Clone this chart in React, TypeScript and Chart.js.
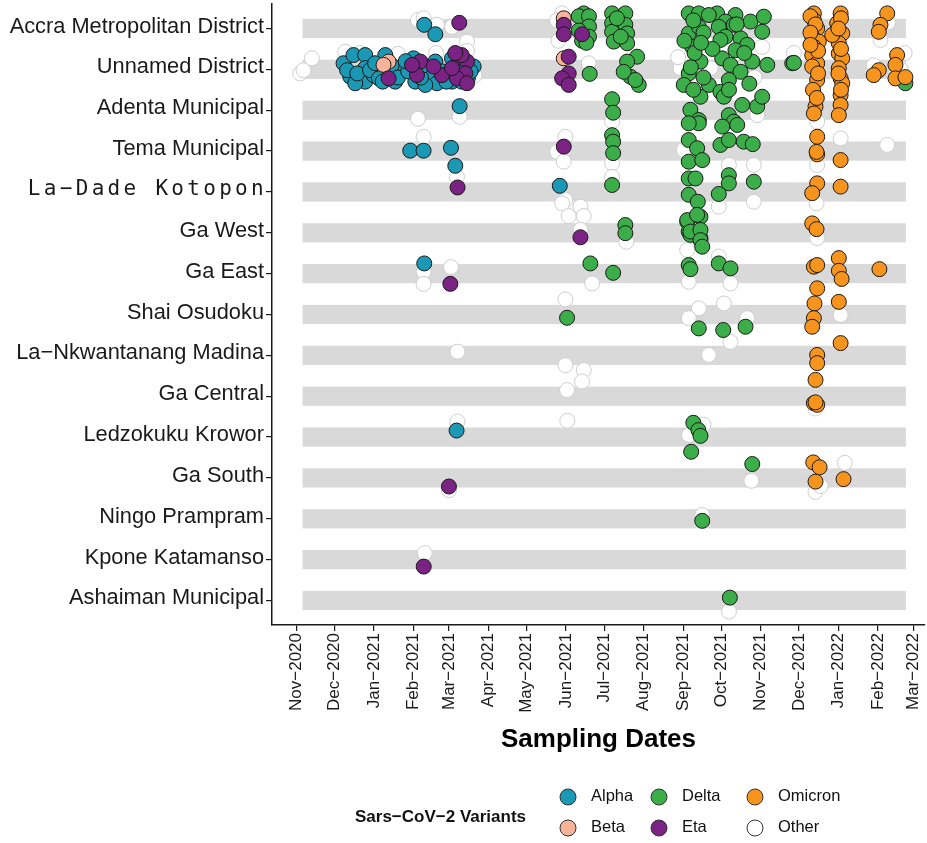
import React, { useEffect, useRef } from "react";
import { Chart, registerables } from "chart.js";

Chart.register(...registerables);

// y categories (top to bottom)
const DISTRICTS = [
  "Accra Metropolitan District",
  "Unnamed District",
  "Adenta Municipal",
  "Tema Municipal",
  "La−Dade Kotopon",
  "Ga West",
  "Ga East",
  "Shai Osudoku",
  "La−Nkwantanang Madina",
  "Ga Central",
  "Ledzokuku Krowor",
  "Ga South",
  "Ningo Prampram",
  "Kpone Katamanso",
  "Ashaiman Municipal",
];

// x values are days since 1 Nov 2020
const MONTH_TICK_DAYS = [0, 30, 61, 92, 120, 151, 181, 212, 242, 273, 304, 334, 365, 395, 426, 457, 485];
const MONTH_TICK_LABELS = [
  "Nov−2020", "Dec−2020", "Jan−2021", "Feb−2021", "Mar−2021", "Apr−2021", "May−2021", "Jun−2021",
  "Jul−2021", "Aug−2021", "Sep−2021", "Oct−2021", "Nov−2021", "Dec−2021", "Jan−2022", "Feb−2022", "Mar−2022",
];
const BAND_START_DAY = 5;
const BAND_END_DAY = 479;

// points: [day, district index + jitter]
const ALPHA: number[][] = [
  [100.6, -0.09], [109.3, 0.14],
  [37.2, 0.85], [45, 0.65], [54.2, 0.65], [54.2, 0.97], [42.5, 1.18], [54.2, 1.3], [46.4, 1.34], [70, 0.65],
  [60.8, 1.14], [77.8, 1.3], [83.1, 0.97], [92.2, 0.73], [93.6, 1.3], [104, 1.14], [109.3, 0.81], [110.6, 1.34],
  [122.4, 0.73], [122.4, 1.3], [139.4, 0.93], [101.4, 1.38], [40, 1.02], [48, 1.1], [58, 1.02], [65, 1.22],
  [75, 0.9], [80, 1.2], [88, 1.05], [98, 1.2], [100, 0.9], [115, 1.05], [118, 1.3], [126, 1.0], [130, 1.3],
  [135, 1.2], [62, 0.85], [86, 0.8], [68, 1.3], [137, 1.05],
  [128.4, 1.9],
  [89.6, 2.99], [100.1, 2.99], [121.6, 2.92], [125, 3.36],
  [207.1, 3.85],
  [100.6, 5.75],
  [126, 9.84],
];
const BETA: number[][] = [
  [210.2, -0.25], [72.6, 0.81], [68.6, 0.89], [210.2, 0.73],
];
const DELTA: number[][] = [
  [225.9, -0.37], [225.9, -0.25], [225.9, -0.13], [225.9, 0.0], [225.9, 0.12], [227, 0.24], [224.6, 0.3],
  [222, -0.3], [230, -0.3], [230, -0.05], [222, 0.05], [230, 0.2], [228, 0.35],
  [230.6, 1.11],
  [248.2, -0.37], [258.6, -0.37], [248.2, -0.13], [258.6, -0.09], [248.2, 0.08], [260, 0.12], [249.5, 0.32],
  [260, 0.36], [267.8, 0.69], [260, 0.81], [262.6, 1.18], [269.1, 1.38], [257.3, 1.06], [266.5, 1.26],
  [252, -0.25], [255, 0.2],
  [248.2, 1.73], [249, 2.06],
  [248.2, 2.61], [249, 2.77], [249, 3.05],
  [248.2, 3.83],
  [258.6, 4.81], [258.6, 5.01],
  [231.1, 5.75], [249, 5.98],
  [212.8, 7.08],
  [308.4, -0.37], [316.3, -0.37], [308.4, 0.12], [316.3, -0.04], [311.1, 0.45], [317.6, 0.81], [308.4, 1.1],
  [304.5, 1.38], [317.6, 1.67], [309.7, 1.99], [316.3, 2.24], [324.2, 1.38],
  [330.7, -0.37], [324.2, -0.33], [345.1, -0.33], [337.3, -0.17], [332, -0.04], [343.8, -0.09], [356.9, -0.17],
  [337.3, 0.2], [349.1, 0.24], [333.3, 0.28], [354.3, 0.4], [345.1, 0.53], [334.7, 0.73], [341.2, 0.89],
  [358.3, 0.81], [349.1, 1.06], [339.9, 1.26], [333.3, 1.55], [336, 1.67], [350.4, 1.87], [339.9, 2.12],
  [343.8, 2.28], [362.2, 1.91], [366.1, 1.67], [366.1, 0.08], [367.4, -0.29], [370.1, 0.89], [389.7, 0.85],
  [312, -0.2], [320, 0.1], [313, 0.6], [305, 0.3], [320, 1.2], [312, 1.5], [346, -0.1], [352, 0.6], [327, 0.5],
  [340, 1.5], [356, 1.35], [310, 0.95], [318, 0.35],
  [316.3, 2.32], [308.4, 2.32], [346.5, 2.36], [334.7, 2.4], [308.4, 2.73], [315, 2.93], [333.3, 2.85],
  [339.9, 2.73], [351.6, 2.77], [358.7, 2.83], [308.4, 3.26], [319, 3.22], [308.4, 3.67], [313.7, 3.67],
  [339.9, 3.59], [339.9, 3.79], [359.5, 3.75], [332, 4.05], [308.4, 4.07], [315.5, 4.24], [317.6, 4.61],
  [307.2, 4.73], [308.4, 4.97], [317.6, 5.13], [309.7, 5.05],
  [307.2, 4.69], [315, 4.56], [309.7, 4.97], [317.6, 4.93], [317.6, 5.18], [319, 5.34],
  [308.4, 5.79], [309.7, 5.89], [332, 5.75], [341.2, 5.87],
  [316.3, 7.34], [335.5, 7.38], [353, 7.3],
  [312, 9.65], [316, 9.83], [317.6, 9.97], [310.3, 10.36],
  [358.3, 10.66],
  [319, 12.05],
  [340.7, 13.93],
  [478.6, 1.34], [391, 0.84],
];
const ETA: number[][] = [
  [128.1, -0.14], [210.2, -0.09], [210.2, 0.14], [224.6, 0.14],
  [72.6, 1.22], [97.5, 0.81], [94.9, 1.14], [114.5, 1.14], [107.9, 0.93], [127.6, 0.73], [134.2, 0.81],
  [132.9, 1.1], [126.3, 1.22], [134.2, 1.34], [122.4, 0.97], [91, 0.89], [214.1, 0.69], [214.1, 1.1],
  [208.9, 1.22], [214.1, 1.38], [130, 0.65], [125, 0.6],
  [210.2, 2.89],
  [126.8, 3.89],
  [223.3, 5.11],
  [121.1, 6.25],
  [120, 11.21],
  [100.2, 13.17],
];
const OMICRON: number[][] = [
  [406.7, -0.37], [406.7, -0.21], [409.3, 0.0], [405.4, 0.2], [410.6, 0.32], [406.7, 0.45], [405.4, 0.65],
  [409.3, 0.85], [405.4, 0.93], [409.3, 1.26], [408, 1.91], [406.7, 2.08],
  [404, -0.3], [408, -0.1], [404, 0.1], [410, 0.55], [404, 0.4], [410, 1.1], [406, 1.5], [409, 1.7],
  [427.7, -0.37], [425, -0.13], [429, 0.12], [426.3, 0.36], [426.3, 0.61], [429, 0.73], [426.3, 0.97],
  [427.7, 1.22], [429, 1.34], [427.7, 1.63], [427.7, 1.87], [426.3, 2.12], [421.1, 0.16],
  [428, -0.25], [426, 0.0], [428, 0.5], [426, 1.1], [428, 1.5],
  [464.3, -0.37], [459, -0.09], [457.7, 0.08], [472.1, 0.65], [470.8, 0.89], [457.7, 1.02], [453.7, 1.14],
  [470.8, 1.22], [478.6, 1.19],
  [409.3, 2.65], [409.3, 3.08], [408.8, 3.02], [427.7, 3.22],
  [409.3, 3.79], [405.4, 4.03], [427.7, 3.87],
  [405.4, 4.77], [408.8, 4.91],
  [406.7, 5.83], [409.3, 5.79], [426.3, 5.62], [426.3, 5.93], [428.5, 6.13], [458.2, 5.89],
  [409.3, 6.36], [407.2, 6.73], [426.3, 6.69], [406.7, 7.09], [405.4, 7.3],
  [427.7, 7.7], [409.3, 7.99], [409.3, 8.19], [408, 8.6],
  [406.7, 9.17], [409.3, 9.21], [408, 9.15],
  [406.2, 10.62], [411.2, 10.74], [408, 11.09], [430, 11.03],
];
const OTHER: number[][] = [
  [3.1, 1.1], [5.7, 1.02], [12.3, 0.73], [38.5, 0.57], [95.7, -0.21], [100.1, -0.25], [110.6, -0.09],
  [122.4, -0.04], [134.2, 0.32], [134.2, 0.55], [95.7, 2.21], [128.4, 2.16], [100.1, 2.65], [126.3, 3.63],
  [208.9, -0.37], [205, -0.2], [206, 0.3], [229.8, 0.85], [211.5, 2.65], [205, 3.02], [210.2, 3.26],
  [211.5, 4.2], [208.9, 4.28], [223.3, 4.36], [214.1, 4.59], [225.9, 4.59], [223.3, 4.93], [100.1, 5.95],
  [100.1, 6.25], [121.6, 5.84], [232.5, 6.24], [211.5, 6.63], [126.7, 7.91], [211.5, 8.24], [225.9, 8.36],
  [224.6, 8.64], [212.8, 8.85], [126.7, 9.62], [213, 9.6], [308.6, 9.95], [320, 9.7], [357.6, 11.07],
  [408, 11.34], [412, 11.2], [431, 10.63], [319, 11.91], [101, 12.84], [340, 14.27], [120, 11.3],
  [248.2, 2.28], [248.2, 3.3], [248.2, 3.63], [259.4, 5.22],
  [301.9, 0.97], [325.5, 0.97], [366.1, 0.45], [362.2, 2.12], [339.9, 3.34], [359.5, 3.34], [359.5, 4.24],
  [332, 4.36], [304.5, 2.97], [307.2, 5.42], [332, 5.58], [308.4, 6.2], [341.2, 6.24], [316.3, 6.85],
  [336, 6.73], [308.4, 7.09], [341.2, 7.67], [354.3, 7.09], [324.2, 7.99], [391, 0.6],
  [409.3, 2.28], [427.7, 2.69], [409.3, 3.34], [408.8, 4.28], [409.3, 5.13], [427.7, 7.01], [464.3, 2.85],
  [459, 0.28], [453.7, 0.9], [475, 1.0], [478, 0.6], [408, 9.3], [465, -0.15],
  [50, 0.6], [80, 0.62], [110, 0.6], [140, 1.15], [300, 0.7], [340, 0.0], [360, 1.2],
];

const VARIANTS = [
  { name: "Alpha", data: ALPHA, color: "#1B98B4", border: "#1a1a1a", order: 5 },
  { name: "Beta", data: BETA, color: "#F7B49A", border: "#1a1a1a", order: 4 },
  { name: "Delta", data: DELTA, color: "#3BAE4A", border: "#1a1a1a", order: 3 },
  { name: "Eta", data: ETA, color: "#7A2384", border: "#1a1a1a", order: 2 },
  { name: "Omicron", data: OMICRON, color: "#F7941D", border: "#1a1a1a", order: 1 },
  { name: "Other", data: OTHER, color: "#FFFFFF", border: "#CDCDCD", order: 10 },
];

const LEGEND_LAYOUT = [
  { name: "Alpha", cx: 568, cy: 797 },
  { name: "Beta", cx: 568, cy: 828 },
  { name: "Delta", cx: 659, cy: 797 },
  { name: "Eta", cx: 659, cy: 828 },
  { name: "Omicron", cx: 755, cy: 797 },
  { name: "Other", cx: 755, cy: 828 },
];

const SANS = "'Liberation Sans', Arial, Helvetica, sans-serif";

const decorPlugin = {
  id: "decor",
  beforeDatasetsDraw(chart: any) {
    const { ctx, scales } = chart;
    const x = scales.x, y = scales.y;
    ctx.save();
    ctx.fillStyle = "#D9D9D9";
    const x0 = x.getPixelForValue(BAND_START_DAY);
    const x1 = x.getPixelForValue(BAND_END_DAY);
    DISTRICTS.forEach((_, i) => {
      const ya = y.getPixelForValue(i - 0.235);
      const yb = y.getPixelForValue(i + 0.235);
      ctx.fillRect(x0, Math.min(ya, yb), x1 - x0, Math.abs(yb - ya));
    });
    ctx.restore();
  },
  afterDraw(chart: any) {
    const { ctx, scales } = chart;
    const y = scales.y;
    ctx.save();
    // y labels
    ctx.fillStyle = "#1a1a1a";
    ctx.textAlign = "right";
    ctx.textBaseline = "middle";
    const right = chart.chartArea.left - 8;
    DISTRICTS.forEach((name, i) => {
      const py = y.getPixelForValue(i) - 2;
      if (name.indexOf("Dade") >= 0) {
        ctx.font = "21px 'DejaVu Sans Mono', monospace";
        (ctx as any).letterSpacing = "3.3px";
        ctx.fillText(name, right + 3, py);
        (ctx as any).letterSpacing = "0px";
      } else {
        ctx.font = "21.8px " + SANS;
        ctx.fillText(name, right, py);
      }
    });
    // legend
    ctx.textAlign = "left";
    ctx.font = "bold 17px " + SANS;
    ctx.fillStyle = "#111";
    ctx.fillText("Sars−CoV−2 Variants", 355, 817);
    ctx.font = "16.5px " + SANS;
    LEGEND_LAYOUT.forEach((item) => {
      const v = VARIANTS.find((vv) => vv.name === item.name)!;
      ctx.beginPath();
      ctx.arc(item.cx, item.cy, 8, 0, Math.PI * 2);
      ctx.fillStyle = v.color;
      ctx.fill();
      ctx.lineWidth = 1;
      ctx.strokeStyle = "#333";
      ctx.stroke();
      ctx.fillStyle = "#111";
      ctx.fillText(item.name, item.cx + 23, item.cy - 1);
    });
    ctx.restore();
  },
};

export default function App() {
  const canvasRef = useRef<HTMLCanvasElement | null>(null);

  useEffect(() => {
    document.body.style.margin = "0";
    const canvas = canvasRef.current;
    if (!canvas) return;
    const chart = new Chart(canvas, {
      type: "scatter",
      data: {
        datasets: VARIANTS.map((v) => ({
          label: v.name,
          data: v.data.map(([d, yy]) => ({ x: d, y: yy })),
          backgroundColor: v.color,
          borderColor: v.border,
          borderWidth: 1,
          pointRadius: 7.5,
          pointHoverRadius: 7.5,
          order: v.order,
        })),
      },
      options: {
        animation: false,
        responsive: true,
        maintainAspectRatio: false,
        events: [],
        layout: { autoPadding: false, padding: { left: 0, right: 2, top: 4, bottom: 88 } },
        plugins: { legend: { display: false }, tooltip: { enabled: false } },
        scales: {
          x: {
            type: "linear",
            min: -19,
            max: 494,
            afterBuildTicks: (scale: any) => {
              scale.ticks = MONTH_TICK_DAYS.map((v) => ({ value: v }));
            },
            afterFit: (scale: any) => {
              scale.height = 130;
              scale.paddingLeft = 0;
              scale.paddingRight = 0;
            },
            ticks: {
              autoSkip: false,
              minRotation: 90,
              maxRotation: 90,
              padding: 2,
              color: "#1a1a1a",
              font: { family: SANS, size: 17 },
              callback: (_v: any, i: number) => MONTH_TICK_LABELS[i],
            },
            grid: { display: true, drawOnChartArea: false, drawTicks: true, tickLength: 6, color: "#1a1a1a", lineWidth: 1.2 },
            border: { display: true, color: "#1a1a1a", width: 1.5 },
            title: {
              display: true,
              text: "Sampling Dates",
              color: "#000",
              font: { family: SANS, size: 26, weight: "bold" },
              padding: { top: 0, bottom: 0 },
            },
          },
          y: {
            type: "linear",
            reverse: true,
            min: -0.6,
            max: 14.6,
            afterBuildTicks: (scale: any) => {
              scale.ticks = DISTRICTS.map((_, i) => ({ value: i }));
            },
            afterFit: (scale: any) => {
              scale.width = 272;
              scale.paddingTop = 0;
              scale.paddingBottom = 0;
            },
            ticks: { display: false },
            grid: { display: true, drawOnChartArea: false, drawTicks: true, tickLength: 6, color: "#1a1a1a", lineWidth: 1.2 },
            border: { display: true, color: "#1a1a1a", width: 1.5 },
          },
        },
      },
      plugins: [decorPlugin],
    });
    return () => chart.destroy();
  }, []);

  return (
    <div style={{ position: "absolute", left: 0, top: 0, width: 927, height: 843 }}>
      <canvas ref={canvasRef} />
    </div>
  );
}
